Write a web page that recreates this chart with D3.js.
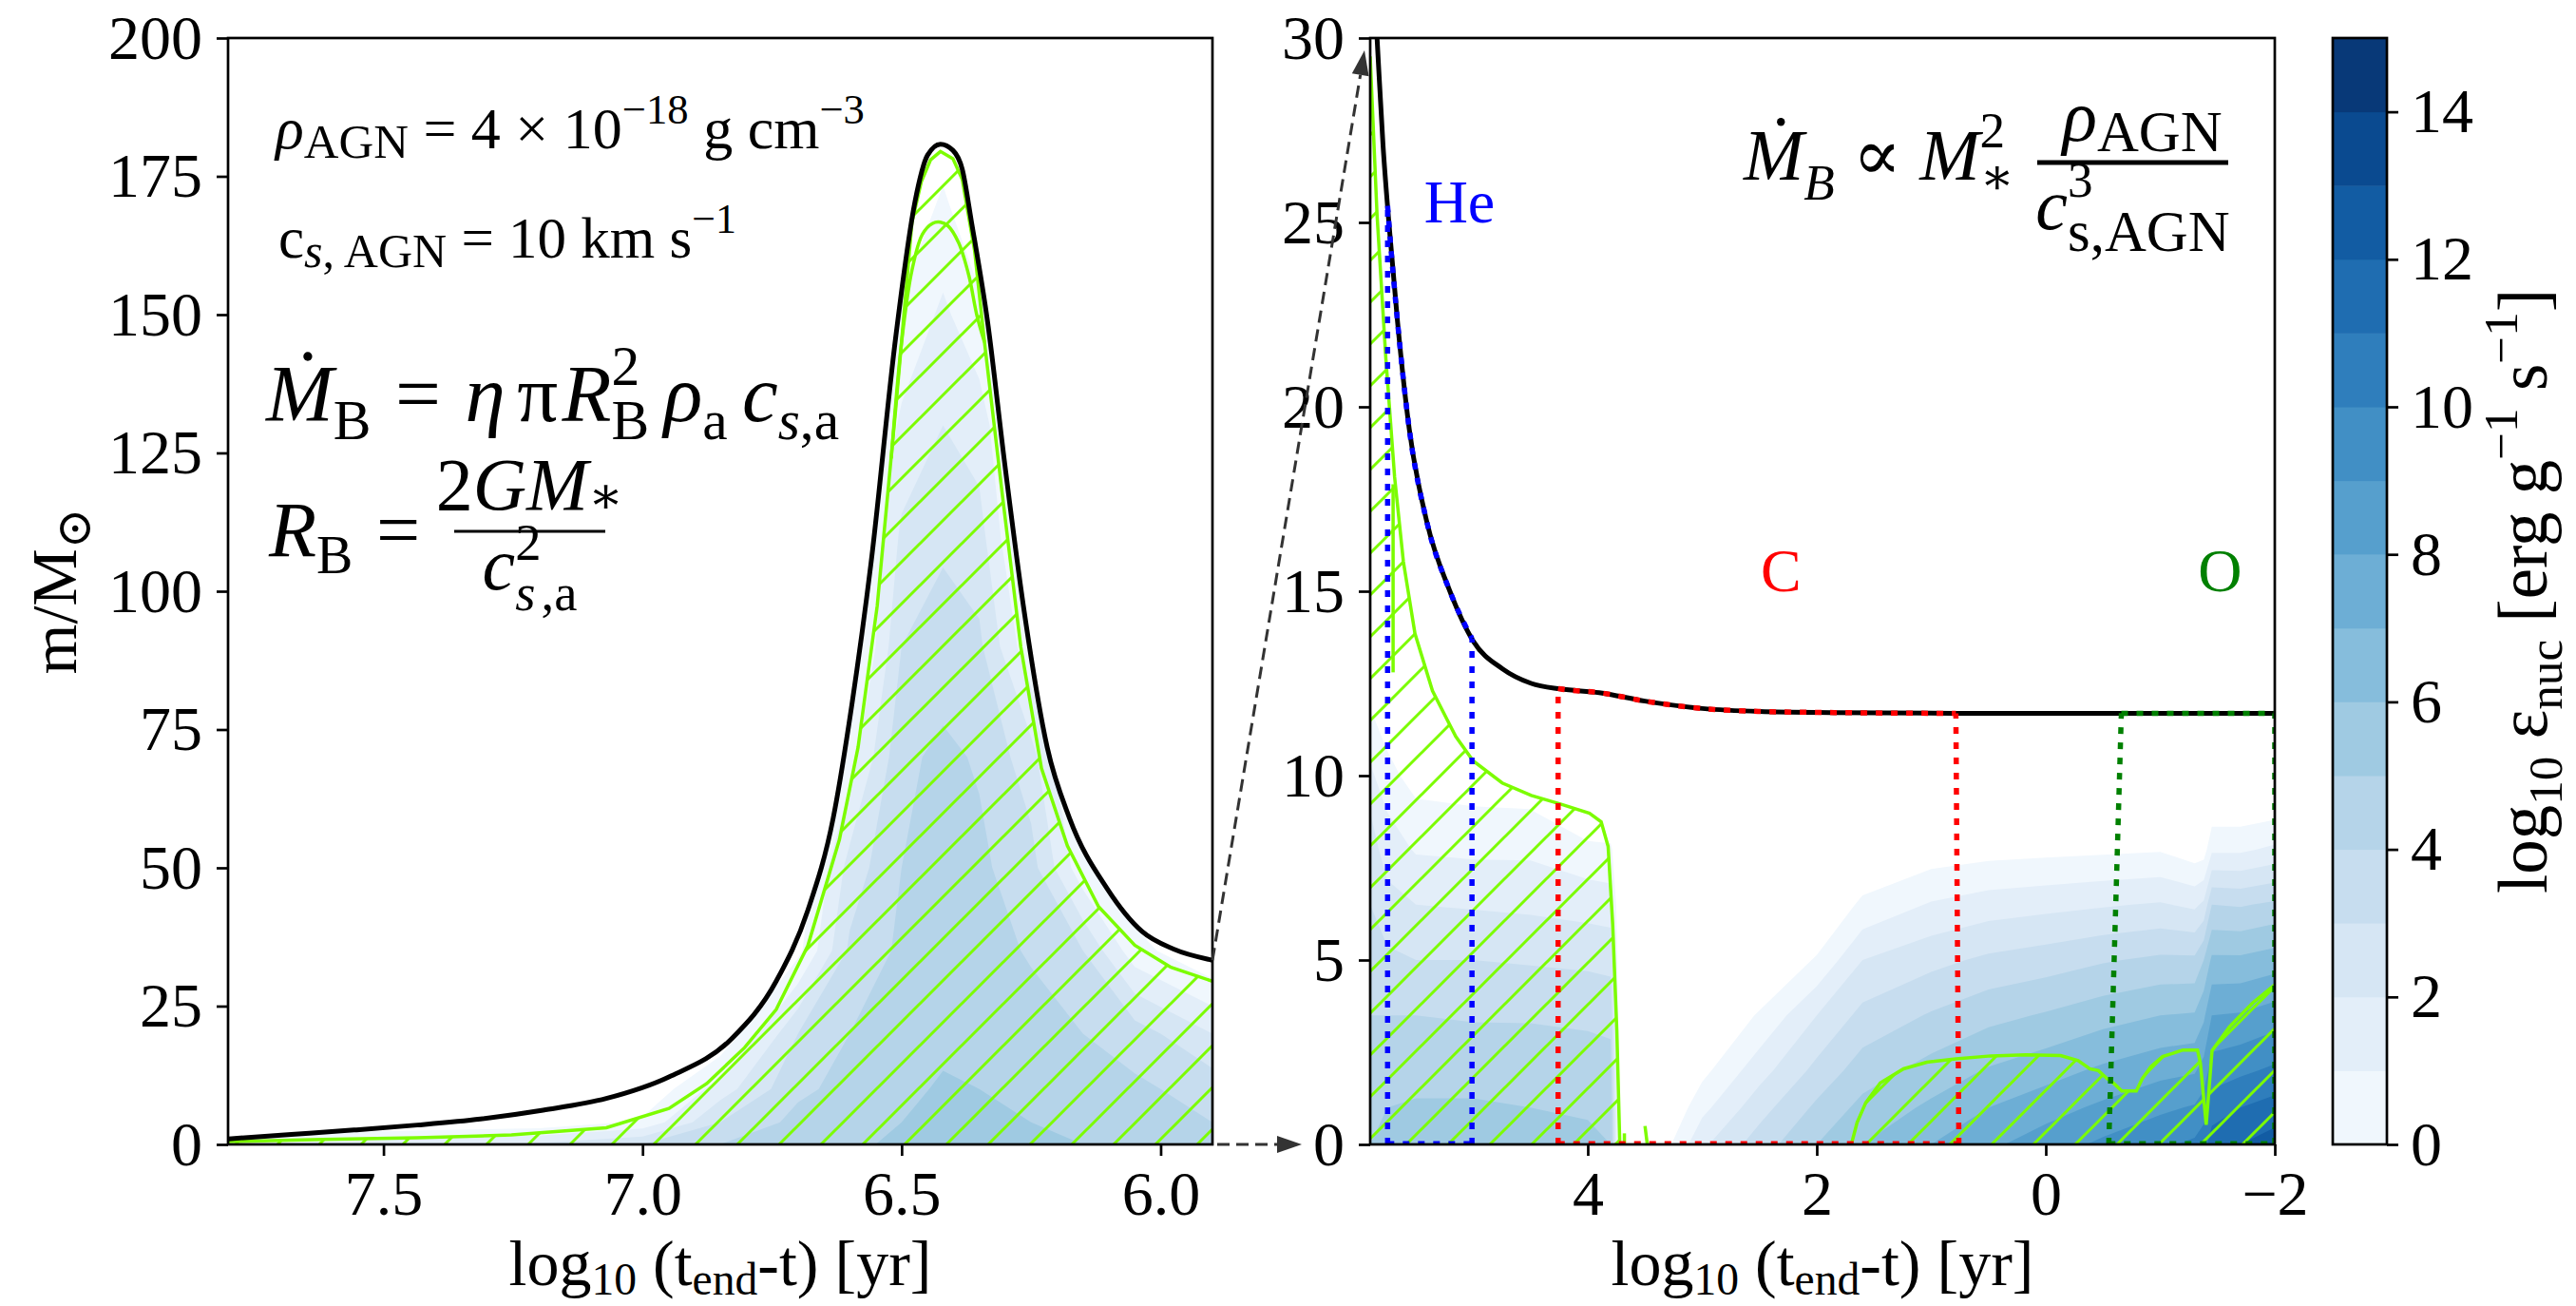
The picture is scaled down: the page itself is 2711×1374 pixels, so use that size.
<!DOCTYPE html>
<html><head><meta charset="utf-8">
<script src="https://cdn.jsdelivr.net/npm/d3@7"></script>
<style>
body{margin:0;background:#fff}
svg{display:block}
text{font-family:"Liberation Serif","Times New Roman","DejaVu Serif",serif;white-space:pre}
</style>
</head><body>
<svg id="chart" width="2711" height="1374"></svg>
<script>
// ---------------- DATA ----------------
const leftXTicks = [7.5, 7.0, 6.5, 6.0];
const leftYTicks = [0, 25, 50, 75, 100, 125, 150, 175, 200];
const rightXTicks = [4, 2, 0, -2];
const rightYTicks = [0, 5, 10, 15, 20, 25, 30];
const cbTicks = [0, 2, 4, 6, 8, 10, 12, 14];
const cbLevels = [0, 1, 2, 3, 4, 5, 6, 7, 8, 9, 10, 11, 12, 13, 14, 15];

// left panel: total mass (black)
const leftBlackX = [7.80,7.678,7.557,7.435,7.313,7.192,7.070,6.949,6.827,6.742,6.681,6.632,6.596,6.559,6.511,6.474,6.450,6.425,6.401,6.383,6.365,6.334,6.301,6.265,6.219,6.176,6.103,6.036,5.975,5.900];
const leftBlackM = [1.0,1.8,2.6,3.5,4.6,6.2,8.3,12.2,19.2,29.5,42.3,59.0,79.5,105.1,146.2,170.5,178.8,180.8,179.7,176.3,166.7,148.7,123.1,97.4,71.8,59.0,46.2,38.5,35.3,33.3];
// left panel: convective boundary (outer, green)
const leftGreenX = [7.80,7.618,7.435,7.253,7.070,6.949,6.876,6.803,6.742,6.681,6.620,6.584,6.547,6.511,6.480,6.462,6.444,6.425,6.401,6.383,6.359,6.34,6.305,6.27,6.23,6.18,6.12,6.05,5.98,5.90];
const leftGreenM = [0.5,0.9,1.2,1.7,3.0,6.5,11.0,17.5,24.4,35.9,55.1,71.8,97.4,133.3,166.7,174,178,179.5,178.2,174.5,161.5,145,117,90,68,54,43,36,32,29.5];
// left panel: inner convective boundary
const leftInnerX = [6.52,6.50,6.48,6.46,6.44,6.425,6.41,6.39,6.37,6.355,6.34];
const leftInnerM = [124,145,158,164.5,166.5,166.7,166,163,157,150,145];

// left panel eps_nuc grid (rows = mass levels, columns = time)
const leftGridX = [7.8, 7.5, 7.2, 7.0, 6.85, 6.7, 6.6, 6.5, 6.42, 6.35, 6.25, 6.15, 6.05, 5.9];
const leftGridM = [0, 4, 10, 20, 35, 50, 70, 90, 110, 130, 150, 170, 190];
const leftGridRows = [
  [1.0, 1.5, 2.2, 3.0, 4.0, 4.5, 4.8, 5.2, 5.5, 5.4, 5.2, 5.0, 4.6, 4.2],
  [-1, -1, -0.8, 0.2, 3.0, 4.3, 4.6, 5.0, 5.3, 5.2, 5.0, 4.8, 4.5, 4.0],
  [-1, -1, -1, -1, 1.5, 3.8, 4.3, 4.8, 5.1, 5.0, 4.8, 4.6, 4.2, 3.6],
  [-1, -1, -1, -1, -1, 3.0, 4.0, 4.5, 4.8, 4.7, 4.4, 4.0, 3.5, 2.0],
  [-1, -1, -1, -1, -1, -0.3, 3.2, 4.2, 4.5, 4.4, 3.9, 3.0, 0.4, -1],
  [-1, -1, -1, -1, -1, -1, 2.4, 4.0, 4.3, 4.2, 3.4, 0.3, -1, -1],
  [-1, -1, -1, -1, -1, -1, 0.5, 3.8, 4.2, 3.9, 2.4, -1, -1, -1],
  [-1, -1, -1, -1, -1, -1, -1, 3.0, 3.5, 3.2, 0.2, -1, -1, -1],
  [-1, -1, -1, -1, -1, -1, -1, 2.2, 2.8, 2.4, -1, -1, -1, -1],
  [-1, -1, -1, -1, -1, -1, -1, 1.2, 2.0, 1.5, -1, -1, -1, -1],
  [-1, -1, -1, -1, -1, -1, -1, 0.2, 1.2, 0.3, -1, -1, -1, -1],
  [-1, -1, -1, -1, -1, -1, -1, -1, 0.2, -1, -1, -1, -1, -1],
  [-1, -1, -1, -1, -1, -1, -1, -1, -1, -1, -1, -1, -1, -1]
];

// right panel: total mass (black)
const rightBlackX = [5.9,5.84,5.788,5.737,5.661,5.559,5.407,5.204,5.001,4.747,4.493,4.239,3.9,3.5,3.0,2.5,1.85,0.8,-2.0];
const rightBlackM = [33.3,30.0,27.1,25.0,22.3,19.4,16.9,15.0,13.65,12.9,12.5,12.35,12.25,12.02,11.82,11.74,11.71,11.69,11.69];
// right panel: convective boundaries (green)
const rightGreenX = [5.9,5.84,5.763,5.687,5.61,5.509,5.356,5.153,5.001,4.747,4.493,4.239,3.985,3.883,3.822,3.782,3.746,3.72];
const rightGreenM = [29.5,25.2,21.3,18.1,15.8,13.85,12.3,11.06,10.4,9.8,9.46,9.23,8.98,8.75,8.08,5.96,3.08,0.0];
const rightGreen2X = [1.698,1.648,1.572,1.445,1.242,1.039,0.785,0.480,0.175,-0.130,-0.283,-0.384,-0.460,-0.537,-0.588,-0.664,-0.791,-0.842,-0.918,-1.020,-1.198,-1.325,-1.350,-1.401,-1.452,-1.605,-1.808,-2.02];
const rightGreen2M = [0,0.59,1.13,1.67,2.05,2.23,2.32,2.40,2.43,2.41,2.27,2.05,2.00,1.78,1.67,1.45,1.45,1.78,2.11,2.38,2.56,2.56,2.21,0.53,2.54,3.19,3.84,4.38];
const rightGreenSegX = [5.70, 5.70];
const rightGreenSegM = [17.9, 12.8];
const blip1X = [3.68, 3.68], blip1M = [0, 0.3];
const blip2X = [3.48, 3.50], blip2M = [0, 0.5];

// burning phases
const burnNames = ['He', 'C', 'O'];
const burnColors = ['#0000ff', '#ff0000', '#008000'];
const burnBottomStart = [5.748, 4.259, -0.55];
const burnTopStart = [5.748, 4.259, -0.66];
const burnTopEnd = [5.011, 0.785, -2.0];
const burnBottomEnd = [5.011, 0.759, -2.0];
const burnLabelX = [5.43, 2.49, -1.33];
const burnLabelM = [25, 15, 15];

// right panel eps_nuc grid (columns = time, values bottom->top)
const rightGridX = [5.9, 5.75, 5.5, 5.0, 4.5, 4.0, 3.8, 3.72, 3.5, 3.3, 3.0, 2.5, 2.0, 1.6, 1.0, 0.5, 0.0, -0.5, -1.0, -1.3, -1.38, -1.45, -1.7, -2.0];
const rightGridM = [0, 1, 2, 3.5, 5, 6.5, 8, 9, 10, 11.5, 13, 15];
const rightGridCols = [
  [5.0, 4.8, 4.5, 4.0, 3.5, 3.0, 2.5, 2.0, 1.2, 0.2, -1, -1],
  [5.2, 5.0, 4.6, 4.0, 3.2, 2.4, 1.5, 1.0, 0.4, -0.5, -1, -1],
  [5.4, 5.1, 4.7, 4.0, 3.0, 2.0, 0.9, 0.3, -0.5, -1, -1, -1],
  [5.4, 5.1, 4.7, 3.9, 3.0, 1.9, 0.8, 0.2, -1, -1, -1, -1],
  [5.3, 5.0, 4.6, 3.9, 2.9, 1.8, 0.8, 0.1, -1, -1, -1, -1],
  [5.2, 4.9, 4.5, 3.8, 2.8, 1.6, 0.3, -1, -1, -1, -1, -1],
  [5.0, 4.8, 4.4, 3.7, 2.7, 1.5, 0.2, -1, -1, -1, -1, -1],
  [-1, -1, -1, -1, -1, -1, -1, -1, -1, -1, -1, -1],
  [-1, -1, -1, -1, -1, -1, -1, -1, -1, -1, -1, -1],
  [-0.2, -1, -1, -1, -1, -1, -1, -1, -1, -1, -1, -1],
  [1.8, 0.7, -0.3, -1, -1, -1, -1, -1, -1, -1, -1, -1],
  [3.5, 2.6, 1.6, 0.1, -1, -1, -1, -1, -1, -1, -1, -1],
  [5.0, 4.2, 3.3, 2.0, 0.1, -1, -1, -1, -1, -1, -1, -1],
  [6.0, 5.3, 4.5, 3.3, 2.0, 0.2, -1, -1, -1, -1, -1, -1],
  [7.0, 6.2, 5.4, 4.1, 2.7, 1.1, -0.6, -1, -1, -1, -1, -1],
  [7.8, 7.0, 6.1, 4.7, 3.2, 1.5, -0.4, -1, -1, -1, -1, -1],
  [8.5, 7.6, 6.6, 5.1, 3.5, 1.7, -0.3, -1, -1, -1, -1, -1],
  [9.2, 8.2, 7.2, 5.6, 3.9, 1.9, -0.2, -1, -1, -1, -1, -1],
  [9.8, 8.8, 7.7, 6.0, 4.2, 2.1, -0.1, -1, -1, -1, -1, -1],
  [10.2, 9.1, 7.9, 6.1, 4.2, 1.8, -0.6, -1, -1, -1, -1, -1],
  [10.6, 9.5, 8.4, 6.8, 5.0, 2.2, -0.5, -1, -1, -1, -1, -1],
  [11.5, 10.5, 9.5, 8.0, 6.2, 4.0, 0.8, -0.5, -1, -1, -1, -1],
  [12.0, 11.0, 9.8, 8.1, 6.2, 3.9, 0.8, -0.5, -1, -1, -1, -1],
  [12.5, 11.4, 10.2, 8.5, 6.5, 4.2, 1.2, -0.3, -1, -1, -1, -1]
];

// ---------------- LAYOUT ----------------
const PL = {x0: 240, x1: 1276, y0: 40, y1: 1204};
const PR = {x0: 1442, x1: 2394, y0: 40, y1: 1204};
const CB = {x0: 2455, x1: 2512, y0: 40, y1: 1204};
const TICK_FS = 66, LABEL_FS = 68;
const GREEN = '#7cfc00';

const xL = d3.scaleLinear().domain([7.8, 5.9]).range([PL.x0, PL.x1]);
const yL = d3.scaleLinear().domain([0, 200]).range([PL.y1, PL.y0]);
const xR = d3.scaleLinear().domain([5.9, -2]).range([PR.x0, PR.x1]);
const yR = d3.scaleLinear().domain([0, 30]).range([PR.y1, PR.y0]);
const yC = d3.scaleLinear().domain([0, 15]).range([CB.y1, CB.y0]);
const levelColor = v => d3.interpolateBlues((v + 0.5) / 15);

const svg = d3.select('#chart');
svg.append('rect').attr('width', 2711).attr('height', 1374).attr('fill', '#fff');
const defs = svg.append('defs');
const hatch = defs.append('pattern').attr('id', 'hatch').attr('patternUnits', 'userSpaceOnUse')
  .attr('width', 44).attr('height', 44);
hatch.append('path').attr('d', 'M-11,11 L11,-11 M0,44 L44,0 M33,55 L55,33')
  .attr('stroke', GREEN).attr('stroke-width', 3).attr('fill', 'none');

function zip(xs, ms) { return xs.map((x, i) => [x, ms[i]]); }

function addClipRect(id, P) {
  defs.append('clipPath').attr('id', id).append('rect')
    .attr('x', P.x0).attr('y', P.y0).attr('width', P.x1 - P.x0).attr('height', P.y1 - P.y0);
}
addClipRect('clipL', PL);
addClipRect('clipR', PR);
function addClipArea(id, pts, xs, ys) {
  defs.append('clipPath').attr('id', id).append('path')
    .attr('d', d3.area().x(d => xs(d[0])).y0(ys(0)).y1(d => ys(d[1])).curve(d3.curveMonotoneX)(pts));
}
addClipArea('starL', zip(leftBlackX, leftBlackM), xL, yL);
addClipArea('starR', zip(rightBlackX, rightBlackM), xR, yR);

function contourLayer(g, gridX, gridM, rows, xs, ys) {
  const nx = gridX.length, ny = gridM.length;
  const flat = [];
  rows.forEach(r => r.forEach(v => flat.push(v)));
  const ix = d3.scaleLinear().domain(d3.range(nx)).range(gridX).clamp(true);
  const iy = d3.scaleLinear().domain(d3.range(ny)).range(gridM).clamp(true);
  const proj = d3.geoTransform({point(x, y) { this.stream.point(xs(ix(x - 0.5)), ys(iy(y - 0.5))); }});
  const path = d3.geoPath(proj);
  const cs = d3.contours().size([nx, ny]).thresholds(cbLevels.slice(0, 15))(flat);
  g.selectAll(null).data(cs).join('path').attr('d', path).attr('fill', d => levelColor(d.value));
}

// ---------------- LEFT PANEL ----------------
const gL = svg.append('g');
const gLc = gL.append('g').attr('clip-path', 'url(#clipL)').append('g').attr('clip-path', 'url(#starL)');
contourLayer(gLc, leftGridX, leftGridM, leftGridRows, xL, yL);
const gLd = gL.append('g').attr('clip-path', 'url(#clipL)');
gLd.append('path').attr('d', d3.area().x(d => xL(d[0])).y0(yL(0)).y1(d => yL(d[1]))(zip(leftGreenX, leftGreenM)))
  .attr('fill', 'url(#hatch)');
const lineL = d3.line().x(d => xL(d[0])).y(d => yL(d[1]));
gLd.append('path').attr('d', lineL(zip(leftGreenX, leftGreenM))).attr('fill', 'none').attr('stroke', GREEN).attr('stroke-width', 3.5);
gLd.append('path').attr('d', d3.line().x(d => xL(d[0])).y(d => yL(d[1])).curve(d3.curveCatmullRom)(zip(leftInnerX, leftInnerM))).attr('fill', 'none').attr('stroke', GREEN).attr('stroke-width', 3.5);
gLd.append('path').attr('d', d3.line().x(d => xL(d[0])).y(d => yL(d[1])).curve(d3.curveMonotoneX)(zip(leftBlackX, leftBlackM)))
  .attr('fill', 'none').attr('stroke', '#000').attr('stroke-width', 5);

// ---------------- RIGHT PANEL ----------------
const gR = svg.append('g');
const rightGridRows = rightGridM.map((m, j) => rightGridCols.map(col => col[j]));
const gRc = gR.append('g').attr('clip-path', 'url(#clipR)').append('g').attr('clip-path', 'url(#starR)');
contourLayer(gRc, rightGridX, rightGridM, rightGridRows, xR, yR);
const gRd = gR.append('g').attr('clip-path', 'url(#clipR)');
const areaR = d3.area().x(d => xR(d[0])).y0(yR(0)).y1(d => yR(d[1]));
gRd.append('path').attr('d', areaR(zip(rightGreenX, rightGreenM))).attr('fill', 'url(#hatch)');
gRd.append('path').attr('d', areaR(zip(rightGreen2X, rightGreen2M))).attr('fill', 'url(#hatch)');
const lineR = d3.line().x(d => xR(d[0])).y(d => yR(d[1]));
[[rightGreenX, rightGreenM], [rightGreen2X, rightGreen2M], [rightGreenSegX, rightGreenSegM], [blip1X, blip1M], [blip2X, blip2M]]
  .forEach(([xs, ms]) => gRd.append('path').attr('d', lineR(zip(xs, ms))).attr('fill', 'none')
    .attr('stroke', GREEN).attr('stroke-width', 3.5));
const blackR = d3.line().x(d => xR(d[0])).y(d => yR(d[1])).curve(d3.curveMonotoneX);
gRd.append('path').attr('d', blackR(zip(rightBlackX, rightBlackM)))
  .attr('fill', 'none').attr('stroke', '#000').attr('stroke-width', 5);

// burning-phase dotted outlines
const blackAt = d3.scaleLinear().domain(rightBlackX).range(rightBlackM);
burnNames.forEach((nm, k) => {
  const col = burnColors[k];
  const xa = burnTopStart[k], xb = burnTopEnd[k];
  const top = [[xa, blackAt(xa)]].concat(zip(rightBlackX, rightBlackM).filter(p => p[0] < xa && p[0] > xb)).concat([[xb, blackAt(xb)]]);
  const segs = [
    [[burnBottomStart[k], 0], [xa, blackAt(xa)]],
    [[burnBottomEnd[k], 0], [xb, blackAt(xb)]],
    [[burnBottomStart[k], 0.02], [burnBottomEnd[k], 0.02]]
  ];
  const st = s => s.attr('fill', 'none').attr('stroke', col).attr('stroke-width', 5.5).attr('stroke-dasharray', '7,9');
  st(gRd.append('path').attr('d', blackR(top)));
  segs.forEach(s => st(gRd.append('path').attr('d', lineR(s))));
  gR.append('text').attr('x', xR(burnLabelX[k])).attr('y', yR(burnLabelM[k])).attr('font-size', 64)
    .attr('fill', col).text(nm);
});

// ---------------- FRAMES & AXES ----------------
function frame(P) {
  svg.append('rect').attr('x', P.x0).attr('y', P.y0).attr('width', P.x1 - P.x0).attr('height', P.y1 - P.y0)
    .attr('fill', 'none').attr('stroke', '#000').attr('stroke-width', 2.7);
}
frame(PL); frame(PR);
function styleAxis(g) {
  g.select('.domain').remove();
  g.selectAll('line').attr('stroke', '#000').attr('stroke-width', 2.7);
  g.selectAll('text').attr('font-size', TICK_FS).attr('fill', '#000');
}
styleAxis(svg.append('g').attr('transform', `translate(0,${PL.y1})`)
  .call(d3.axisBottom(xL).tickValues(leftXTicks).tickFormat(d3.format('.1f')).tickSize(12).tickPadding(15)));
styleAxis(svg.append('g').attr('transform', `translate(${PL.x0},0)`)
  .call(d3.axisLeft(yL).tickValues(leftYTicks).tickSize(12).tickPadding(15)));
styleAxis(svg.append('g').attr('transform', `translate(0,${PR.y1})`)
  .call(d3.axisBottom(xR).tickValues(rightXTicks).tickFormat(d3.format('d')).tickSize(12).tickPadding(15)));
styleAxis(svg.append('g').attr('transform', `translate(${PR.x0},0)`)
  .call(d3.axisLeft(yR).tickValues(rightYTicks).tickSize(12).tickPadding(15)));

// colorbar
const gC = svg.append('g');
gC.selectAll(null).data(cbLevels.slice(0, 15)).join('rect')
  .attr('x', CB.x0).attr('width', CB.x1 - CB.x0)
  .attr('y', d => yC(d + 1)).attr('height', d => yC(d) - yC(d + 1) + 0.5)
  .attr('fill', d => levelColor(d));
gC.append('rect').attr('x', CB.x0).attr('y', CB.y0).attr('width', CB.x1 - CB.x0).attr('height', CB.y1 - CB.y0)
  .attr('fill', 'none').attr('stroke', '#000').attr('stroke-width', 2.7);
styleAxis(svg.append('g').attr('transform', `translate(${CB.x1},0)`)
  .call(d3.axisRight(yC).tickValues(cbTicks).tickSize(12).tickPadding(13)));

// ---------------- TEXT ----------------
function mathLine(parent, pieces, size) {
  const g = parent.append('g');
  let cx = 0, held = 0;
  for (const p of pieces) {
    if (p.gap !== undefined) { cx += p.gap * size; continue; }
    const sc = p.scale || ((p.sub || p.sup) ? 0.7 : 1);
    const dy = p.sub ? size * (p.dy !== undefined ? p.dy : 0.22) : p.sup ? -size * (p.dy !== undefined ? p.dy : 0.42) : 0;
    const t = g.append('text').attr('x', cx).attr('y', dy).attr('font-size', size * sc)
      .attr('font-style', p.it ? 'italic' : 'normal').attr('fill', p.fill || '#000').text(p.t);
    const w = t.node().getComputedTextLength();
    if (p.dot) g.append('circle').attr('cx', cx + w * 0.62).attr('cy', dy - size * 0.8).attr('r', size * 0.055).attr('fill', '#000');
    if (p.hold) { held = w; continue; }
    cx += Math.max(w, held); held = 0;
  }
  return {g, width: cx};
}
function place(parent, pieces, size, x, y, anchor) {
  const r = mathLine(parent, pieces, size);
  const dx = anchor === 'middle' ? -r.width / 2 : anchor === 'end' ? -r.width : 0;
  r.g.attr('transform', `translate(${x + dx},${y})`);
  return r;
}

// axis labels
const xLabelPieces = [{t: 'log'}, {t: '10', sub: true, dy: 0.15}, {t: ' (t'}, {t: 'end', sub: true, dy: 0.15}, {t: '-t) [yr]'}];
place(svg, xLabelPieces, LABEL_FS, (PL.x0 + PL.x1) / 2, 1352, 'middle');
place(svg, xLabelPieces, LABEL_FS, (PR.x0 + PR.x1) / 2, 1352, 'middle');
{
  const r = mathLine(svg, [{t: 'm/M'}, {t: '⊙', sub: true, scale: 0.75}], LABEL_FS);
  r.g.attr('transform', `translate(80,${(PL.y0 + PL.y1) / 2 + r.width / 2}) rotate(-90)`);
}
{
  const r = mathLine(svg, [{t: 'log'}, {t: '10', sub: true}, {t: ' ε'}, {t: 'nuc', sub: true}, {t: ' [erg g'},
    {t: '−1', sup: true}, {t: ' s'}, {t: '−1', sup: true}, {t: ']'}], 73);
  r.g.attr('transform', `translate(2680,${(CB.y0 + CB.y1) / 2 + r.width / 2}) rotate(-90)`);
}

// left annotations
place(svg, [{t: 'ρ', it: true}, {t: 'AGN', sub: true, scale: 0.82, dy: 0.16}, {t: ' = 4 × 10'},
  {t: '−18', sup: true, scale: 0.72}, {t: ' g cm'}, {t: '−3', sup: true, scale: 0.72}], 62, 290, 156);
place(svg, [{t: 'c'}, {t: 's', sub: true, it: true, scale: 0.82, dy: 0.16}, {t: ', AGN', sub: true, scale: 0.82, dy: 0.16},
  {t: ' = 10 km s'}, {t: '−1', sup: true, scale: 0.72}], 61, 293, 271);
place(svg, [{t: 'M', it: true, dot: true}, {t: 'B', sub: true}, {gap: 0.3}, {t: '='}, {gap: 0.3}, {t: 'η', it: true},
  {gap: 0.15}, {t: 'π'}, {gap: 0.05}, {t: 'R', it: true}, {t: '2', sup: true, hold: true, dy: 0.45}, {t: 'B', sub: true},
  {gap: 0.18}, {t: 'ρ', it: true}, {t: 'a', sub: true}, {gap: 0.18}, {t: 'c', it: true}, {t: 's', sub: true, it: true}, {t: ',a', sub: true}], 85, 280, 443);
place(svg, [{t: 'R', it: true}, {t: 'B', sub: true}, {gap: 0.3}, {t: '='}], 82, 283, 585);
{
  const bx0 = 478, bx1 = 637, by = 559;
  svg.append('line').attr('x1', bx0).attr('x2', bx1).attr('y1', by).attr('y2', by).attr('stroke', '#000').attr('stroke-width', 3);
  place(svg, [{t: '2'}, {t: 'GM', it: true}, {t: '∗', sub: true, dy: 0.05}], 78, (bx0 + bx1) / 2, 536, 'middle');
  place(svg, [{t: 'c', it: true}, {t: '2', sup: true, hold: true, dy: 0.4}, {t: 's', sub: true, it: true, dy: 0.28}, {t: ',a', sub: true, dy: 0.28}], 78, (bx0 + bx1) / 2, 620, 'middle');
}
// right annotation
place(svg, [{t: 'M', it: true, dot: true}, {t: 'B', sub: true, it: true, dy: 0.28}, {t: ' ∝ '}, {t: 'M', it: true},
  {t: '2', sup: true, hold: true, dy: 0.45}, {t: '∗', sub: true, dy: 0.2}], 76, 1835, 189);
{
  const bx0 = 2144, bx1 = 2345, by = 171;
  svg.append('line').attr('x1', bx0).attr('x2', bx1).attr('y1', by).attr('y2', by).attr('stroke', '#000').attr('stroke-width', 5);
  place(svg, [{t: 'ρ', it: true}, {t: 'AGN', sub: true, scale: 0.8, dy: 0.14}], 76, (bx0 + bx1) / 2 + 10, 148, 'middle');
  place(svg, [{t: 'c', it: true}, {t: '3', sup: true, hold: true, dy: 0.45}, {t: 's,AGN', sub: true, scale: 0.8, dy: 0.3}], 76, (bx0 + bx1) / 2, 241, 'middle');
}

// dashed zoom arrows
function dashedArrow(x1, y1, x2, y2) {
  const dx = x2 - x1, dy = y2 - y1, L = Math.hypot(dx, dy), ux = dx / L, uy = dy / L;
  const hl = 26, hw = 9;
  const bx = x2 - ux * hl, by = y2 - uy * hl;
  svg.append('line').attr('x1', x1).attr('y1', y1).attr('x2', bx).attr('y2', by)
    .attr('stroke', '#333').attr('stroke-width', 3).attr('stroke-dasharray', '13,7');
  svg.append('path').attr('d', `M${x2},${y2} L${bx - uy * hw},${by + ux * hw} L${bx + uy * hw},${by - ux * hw} Z`)
    .attr('fill', '#333');
}
dashedArrow(xL(5.9), yL(leftBlackM[leftBlackM.length - 1]), xR(5.9) - 6, yR(30) + 13);
dashedArrow(xL(5.9) + 5, yL(0), xR(5.9) - 72, yR(0));
</script>
</body></html>
